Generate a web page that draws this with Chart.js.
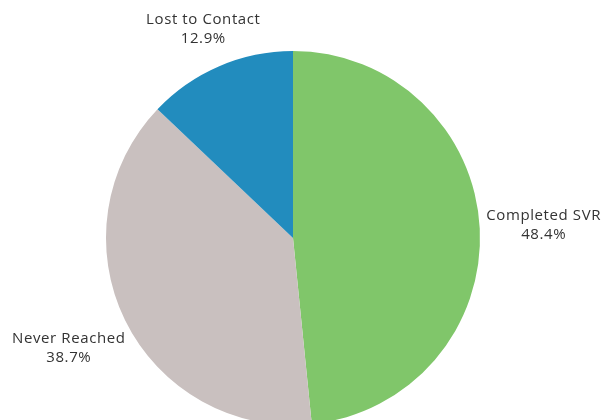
<!DOCTYPE html>
<html>
<head>
<meta charset="utf-8">
<script src="https://cdn.jsdelivr.net/npm/chart.js@4"></script>
<style>
  html, body { margin: 0; padding: 0; background: #fff; overflow: hidden; }
  #wrap { width: 606px; height: 420px; overflow: hidden; }
</style>
</head>
<body>
<div id="wrap"><canvas id="chart" width="606" height="430"></canvas></div>
<script>
// chart data
const categories = ['Completed SVR', 'Never Reached', 'Lost to Contact'];
const shares = [48.4, 38.7, 12.9];
const sliceColors = ['#80C66A', '#C9C0BF', '#228CBE'];

// draws "name / xx.x%" outside each slice
const outsideLabels = {
    id: 'outsideLabels',
    afterDatasetsDraw(chart) {
        const ctx = chart.ctx;
        const meta = chart.getDatasetMeta(0);
        ctx.save();
        ctx.font = '15px "Open Sans", sans-serif';
        ctx.letterSpacing = '0.6px';
        ctx.fillStyle = '#333';
        ctx.textAlign = 'center';
        ctx.textBaseline = 'middle';
        const lineH = 19;
        meta.data.forEach((arc, i) => {
            const mid = (arc.startAngle + arc.endAngle) / 2;
            const cos = Math.cos(mid), sin = Math.sin(mid);
            const lines = [categories[i], shares[i].toFixed(1) + '%'];
            const hw = Math.max(...lines.map(t => ctx.measureText(t).width)) / 2;
            const hh = 13;
            const dist = arc.outerRadius + 6 + hw * Math.abs(cos) + hh * Math.abs(sin);
            const cx = arc.x + cos * dist;
            const cy = arc.y + sin * dist;
            ctx.fillText(lines[0], cx, cy - lineH / 2);
            ctx.fillText(lines[1], cx, cy + lineH / 2);
        });
        ctx.restore();
    }
};

new Chart(document.getElementById('chart'), {
    type: 'pie',
    data: {
        labels: categories,
        datasets: [{
            data: shares,
            backgroundColor: sliceColors,
            borderWidth: 0
        }]
    },
    options: {
        responsive: false,
        animation: false,
        layout: { padding: { top: 51, left: 0, right: 20, bottom: 5 } },
        plugins: {
            legend: { display: false },
            tooltip: { enabled: false }
        }
    },
    plugins: [outsideLabels]
});
</script>
</body>
</html>
